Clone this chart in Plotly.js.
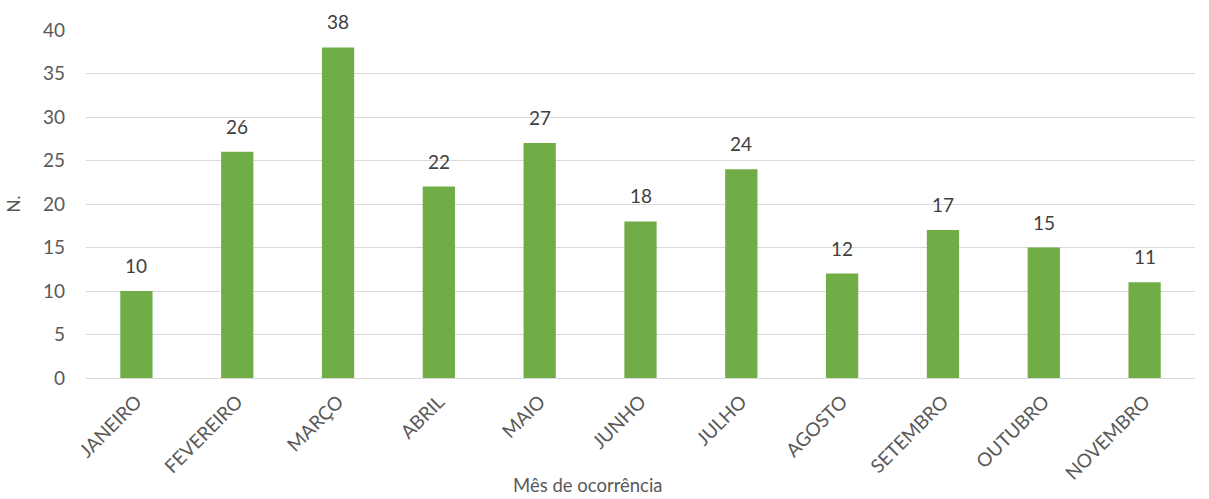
<!DOCTYPE html>
<html>
<head>
<meta charset="utf-8">
<script src="https://cdn.plot.ly/plotly-3.0.1.min.js"></script>
<style>html,body{margin:0;padding:0;background:#fff;}</style>
</head>
<body>
<div id="chart" style="width:1209px;height:499px;"></div>
<script>
const months = ["JANEIRO","FEVEREIRO","MARÇO","ABRIL","MAIO","JUNHO","JULHO","AGOSTO","SETEMBRO","OUTUBRO","NOVEMBRO"];
const counts = [10,26,38,22,27,18,24,12,17,15,11];
const yTicks = [0,5,10,15,20,25,30,35,40];

const font = "Lato, 'Open Sans', sans-serif";
const labels = months.map((m, i) => ({
  x: m, y: counts[i], xref: "x", yref: "y",
  text: String(counts[i]), showarrow: false,
  yanchor: "bottom", yshift: 12,
  font: {family: font, size: 19, color: "#404040"}
}));
labels.push({
  text: "Mês de ocorrência", xref: "paper", yref: "paper",
  x: 0.4527, y: -0.308, xanchor: "center", yanchor: "middle",
  showarrow: false, font: {family: font, size: 18.5, color: "#595959"}
});
Plotly.newPlot("chart", [{
  type: "bar",
  x: months,
  y: counts,
  marker: {color: "#70ad47"},
  hoverinfo: "x+y"
}], {
  width: 1209, height: 499,
  margin: {l: 86, r: 14, t: 30, b: 121},
  paper_bgcolor: "#fff", plot_bgcolor: "#fff",
  bargap: 0.68,
  showlegend: false,
  annotations: labels,
  font: {family: font, color: "#595959"},
  xaxis: {
    tickangle: -45,
    tickfont: {size: 19, color: "#595959"},
    ticklabelstandoff: 8,
    showgrid: false,
    showline: false,
    ticks: ""
  },
  yaxis: {
    range: [0, 40],
    tickvals: yTicks,
    tickfont: {size: 19, color: "#595959"},
    ticklabelstandoff: 20,
    gridcolor: "#d9d9d9",
    gridwidth: 1.3,
    zeroline: true,
    zerolinecolor: "#d9d9d9",
    zerolinewidth: 1.3,
    showline: false,
    ticks: "",
    ticklen: 0,
    title: {text: "N.", font: {size: 17, color: "#595959"}, standoff: 18}
  }
}, {displayModeBar: false});
</script>
</body>
</html>
